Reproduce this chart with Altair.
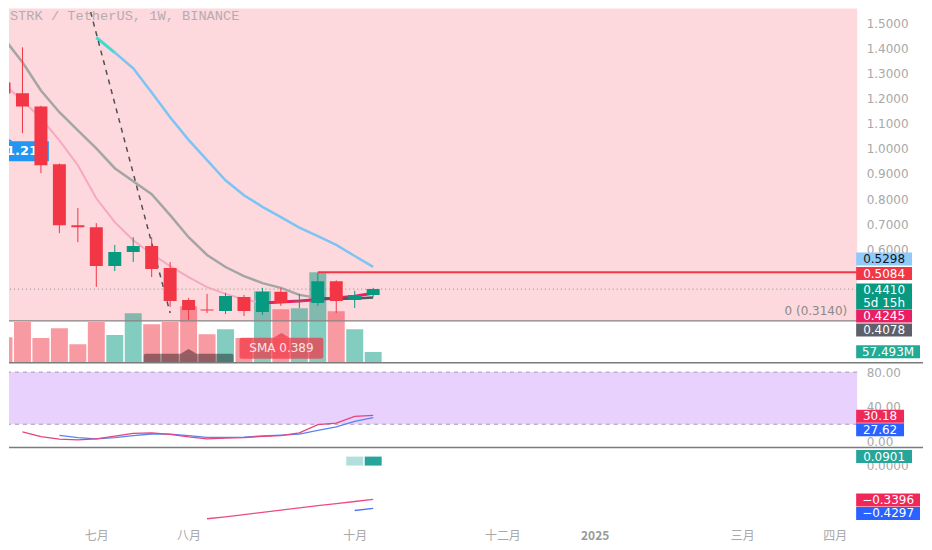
import altair as alt
import pandas as pd

# ---------------- values ----------------
bar_idx = list(range(21))            # weekly bars, 0 = week of 27 May 2024
opens  = [1.265, 1.222, 1.169, 0.939, 0.696, 0.688, 0.533, 0.589, 0.613, 0.525, 0.398,
          0.360, 0.354, 0.410, 0.350, 0.430, 0.390, 0.386, 0.472, 0.398, 0.418]
highs  = [1.340, 1.405, 1.172, 0.942, 0.764, 0.704, 0.617, 0.648, 0.648, 0.549, 0.406,
          0.422, 0.426, 0.418, 0.446, 0.446, 0.422, 0.505, 0.476, 0.434, 0.446]
lows   = [1.161, 1.063, 0.903, 0.664, 0.628, 0.450, 0.513, 0.549, 0.489, 0.370, 0.318,
          0.346, 0.342, 0.334, 0.338, 0.374, 0.366, 0.374, 0.346, 0.366, 0.410]
closes = [1.221, 1.169, 0.935, 0.696, 0.688, 0.533, 0.589, 0.613, 0.521, 0.394, 0.358,
          0.356, 0.414, 0.354, 0.430, 0.386, 0.395, 0.472, 0.394, 0.418, 0.441]
volume_m = [138, 219, 133, 186, 100, 219, 149, 267, 208, 219, 304,
            154, 181, 133, 385, 288, 294, 487, 278, 181, 57.493]

ma_gray = [1.440, 1.345, 1.233, 1.146, 1.074, 1.002, 0.923, 0.871, 0.819, 0.736, 0.648,
           0.577, 0.529, 0.493, 0.465, 0.446, 0.418, 0.406, 0.402, 0.404, 0.4078]
ma_pink = [1.257, 1.193, 1.122, 1.034, 0.935, 0.803, 0.708, 0.636, 0.581, 0.533, 0.489,
           0.449, 0.422, 0.400, 0.386, 0.390, 0.394, 0.400, 0.406, 0.413, 0.4245]
ma_blue_idx = list(range(5, 21))
ma_blue = [1.444, 1.384, 1.321, 1.225, 1.126, 1.036, 0.955, 0.875, 0.815, 0.769,
           0.728, 0.686, 0.652, 0.617, 0.573, 0.5298]
dash_idx = [4, 5, 6, 7, 8, 9]
dash_vals = [1.738, 1.460, 1.181, 0.903, 0.625, 0.346]

rsi_k_idx = list(range(1, 21))
rsi_k = [11.1, 5.7, 2.9, 2.0, 3.1, 6.3, 9.5, 10.0, 8.4, 5.4, 3.1, 4.0, 4.6, 6.1, 6.9,
         10.0, 19.5, 21.2, 29.0, 30.18]
rsi_d_idx = list(range(3, 21))
rsi_d = [7.2, 4.6, 3.1, 4.6, 6.9, 8.8, 8.6, 6.9, 4.9, 4.9, 5.2, 6.5, 7.5, 8.6, 13.0,
         16.9, 23.3, 27.62]
rsi_band = [20, 80]

macd_idx = list(range(11, 21))
macd = [-0.533, -0.513, -0.492, -0.468, -0.446, -0.423, -0.402, -0.381, -0.360, -0.3396]
signal_idx = [19, 20]
signal = [-0.450, -0.4297]
hist_idx = [19, 20]
hist = [0.090, 0.0901]

month_idx = [5, 10, 19, 27, 32, 40, 45]
month_lbl = ["七月", "八月", "十月", "十二月", "2025", "三月", "四月"]
price_ticks = [0.4, 0.5, 0.6, 0.7, 0.8, 0.9, 1.0, 1.1, 1.2, 1.3, 1.4, 1.5]
rsi_ticks = [0, 40, 80]
macd_ticks = [0]

last_price = 0.4410
fib_level = 0.3140
res_level = 0.5084
res_start = 17

title_text = "STRK / TetherUS, 1W, BINANCE"
fib_text = "0 (0.3140)"

# tags on the price axis (text, where the tag sits)
a_tag_text = ["0.5298", "0.5084", "0.4410\n5d 15h", "0.4245", "0.4078", "57.493M"]
a_tag_pos = [0.561, 0.503, 0.412, 0.334, 0.278, 0.191]
b_tag_text = ["30.18", "27.62"]
b_tag_pos = [29.3, 13.8]
c_tag_text = ["0.0901", "\u22120.3396", "\u22120.4297"]
c_tag_pos = [0.09, -0.345, -0.48]

# in-chart annotations
flag_text = "1.219"
flag_box = [-0.16, 2.43, 0.951, 1.030]     # x0, x1, y0, y1
flag_tip = [0.16, 1.030]
sma_text = "SMA 0.389"
sma_box = [12.76, 17.30, 0.163, 0.2466]
sma_tip = [15.03, 0.2466]
ma10_text = "10MA 0.362"
ma10_box = [7.57, 12.43, 0.12, 0.183]
ma10_tip = [10.0, 0.183]

# ---------------- layout / style ----------------
W = 850
HA, HB, HC = 355, 85, 78
X_DOM = [0.27, 46.22]
PA_DOM = [0.1472, 1.5593]
PB_DOM = [-6.89, 90.7]
PC_DOM = [-0.60, 0.18]
VOL_DOM = [0, 1906]
PX_X = W / (X_DOM[1] - X_DOM[0])
PX_A = HA / (PA_DOM[1] - PA_DOM[0])
PX_B = HB / (PB_DOM[1] - PB_DOM[0])
PX_C = HC / (PC_DOM[1] - PC_DOM[0])
TAG_X0 = X_DOM[1] - 1.0 / PX_X

UP, DOWN = "#089981", "#f23645"
PINK_BG = "#fdd8dd"
AXIS_GRAY = "#a8a8a8"
FONT = "DejaVu Sans"

SX = alt.Scale(domain=X_DOM, nice=False, zero=False)
SA = alt.Scale(domain=PA_DOM, nice=False, zero=False)
SB = alt.Scale(domain=PB_DOM, nice=False, zero=False)
SC = alt.Scale(domain=PC_DOM, nice=False, zero=False)
SV = alt.Scale(domain=VOL_DOM, nice=False, zero=False)


def yaxis(values, fmt):
    return alt.Axis(orient="right", values=values, format=fmt, ticks=False, tickSize=0,
                    domain=False, grid=False, labelPadding=9, labelFontSize=12,
                    labelColor=AXIS_GRAY, labelFont=FONT, title=None)


AXA = yaxis(price_ticks, ".4f")
AXB = yaxis(rsi_ticks, ".2f")
AXC = yaxis(macd_ticks, ".4f")

label_expr = " : ".join(f"datum.value == {i} ? '{t}'" for i, t in zip(month_idx, month_lbl)) + " : ''"
AXX = alt.Axis(values=month_idx, labelExpr=label_expr, ticks=False, tickSize=0, domain=False,
               grid=False, labelPadding=5, labelFontSize=12, labelFont="Noto Sans CJK SC",
               labelColor=alt.condition("datum.value == 32", alt.value("#999999"), alt.value(AXIS_GRAY)),
               labelFontWeight=alt.condition("datum.value == 32", alt.value("bold"), alt.value("normal")),
               labelFlush=False, labelOverlap=False, labelAngle=0, title=None)


def X(f, axis=None):
    return alt.X(f"{f}:Q", scale=SX, axis=axis)


def Y(f, scale, axis=None):
    return alt.Y(f"{f}:Q", scale=scale, axis=axis)


def tag_frames(texts, pos, fills, tcolors, px):
    boxes, labels = [], []
    for t, p, f, c in zip(texts, pos, fills, tcolors):
        lines = t.split("\n")
        h = 13 * len(lines)
        w = 8 * max(len(s) for s in lines) + 8
        x0, x1 = TAG_X0, TAG_X0 + w / PX_X
        boxes.append(dict(x0=x0, x1=x1, y0=p - h / 2 / px, y1=p + h / 2 / px, fill=f))
        for k, s in enumerate(lines):
            off = (len(lines) - 1) / 2 - k
            labels.append(dict(x=(x0 + x1) / 2, y=p + off * 12.5 / px, text=s, color=c))
    return pd.DataFrame(boxes), pd.DataFrame(labels)


def tag_layers(texts, pos, fills, tcolors, px, scale, axis):
    bdf, ldf = tag_frames(texts, pos, fills, tcolors, px)
    boxes = alt.Chart(bdf).mark_rect(clip=False).encode(
        x=X("x0"), x2="x1", y=Y("y0", scale, axis), y2="y1",
        color=alt.Color("fill:N", scale=None))
    txt = alt.Chart(ldf).mark_text(clip=False, font=FONT, fontSize=12, baseline="middle",
                                   align="center").encode(
        x=X("x"), y=Y("y", scale, axis), text="text:N",
        color=alt.Color("color:N", scale=None))
    return [boxes, txt]


def separator():
    return alt.Chart(pd.DataFrame({"a": [0]})).mark_rule(
        color="#7b7b7b", strokeWidth=1.5, clip=False).encode(
        x=alt.value(0), x2=alt.value(916), y=alt.value(0))


TRI = "M-1,0L0,-0.6L1,0Z"

# ---------------- pane A: price + volume ----------------
cdf = pd.DataFrame({"i": bar_idx, "open": opens, "high": highs, "low": lows,
                    "close": closes, "vol": volume_m})
cdf["up"] = cdf["close"] >= cdf["open"]
cdf["col"] = cdf["up"].map({True: UP, False: DOWN})
cdf["bx0"] = cdf["i"] - 6.5 / PX_X
cdf["bx1"] = cdf["i"] + 6.5 / PX_X
cdf["vx0"] = cdf["i"] - 8.5 / PX_X
cdf["vx1"] = cdf["i"] + 8.5 / PX_X
cdf["v0"] = 0.0

bg = alt.Chart(pd.DataFrame({"lo": [fib_level], "hi": [PA_DOM[1]]})).mark_rect(
    color=PINK_BG).encode(x=alt.value(0), x2=alt.value(W), y=Y("lo", SA, AXA), y2="hi")

vol = alt.Chart(cdf).mark_rect(opacity=0.5, clip=True).encode(
    x=X("vx0"), x2="vx1", y=Y("vol", SV), y2="v0", color=alt.Color("col:N", scale=None))

fib_rule = alt.Chart(pd.DataFrame({"y": [fib_level]})).mark_rule(
    color="#858585", strokeWidth=1.3).encode(y=Y("y", SA))
last_rule = alt.Chart(pd.DataFrame({"y": [last_price]})).mark_rule(
    color="#8c8c8c", strokeWidth=1, strokeDash=[1, 3]).encode(y=Y("y", SA))


def line_layer(xs, ys, color, width, dash=None, opacity=1.0):
    kw = dict(color=color, strokeWidth=width, clip=True, opacity=opacity)
    if dash:
        kw["strokeDash"] = dash
    return alt.Chart(pd.DataFrame({"i": xs, "v": ys})).mark_line(**kw).encode(
        x=X("i"), y=Y("v", SA))


pink_light = line_layer(bar_idx[:15], ma_pink[:15], "#f4a9c1", 2)
pink_dark = line_layer(bar_idx[14:], ma_pink[14:], "#e91e63", 3)
gray_light = line_layer(bar_idx[:18], ma_gray[:18], "#a5a5a5", 2.5)
gray_dark = line_layer(bar_idx[17:], ma_gray[17:], "#55585f", 2.5)
blue_cyan = line_layer(ma_blue_idx[:2], ma_blue[:2], "#3fdccf", 3)
blue_line = line_layer(ma_blue_idx[1:], ma_blue[1:], "#7cc4f4", 2.5)
dashed = line_layer(dash_idx, dash_vals, "#505050", 1.5, dash=[5, 5])

flag_rect = alt.Chart(pd.DataFrame({"x0": [flag_box[0]], "x1": [flag_box[1]],
                                    "y0": [flag_box[2]], "y1": [flag_box[3]]})).mark_rect(
    color="#2196f3", clip=True).encode(x=X("x0"), x2="x1", y=Y("y0", SA), y2="y1")
flag_tri = alt.Chart(pd.DataFrame({"x": [flag_tip[0]], "y": [flag_tip[1]]})).mark_point(
    shape=TRI, size=144, filled=True, color="#2196f3", opacity=1, clip=True).encode(
    x=X("x"), y=Y("y", SA))
flag_txt = alt.Chart(pd.DataFrame({"x": [0.11], "y": [0.99], "t": [flag_text]})).mark_text(
    color="white", font=FONT, fontSize=13, fontWeight="bold", align="left",
    baseline="middle", clip=True).encode(x=X("x"), y=Y("y", SA), text="t:N")

wicks = alt.Chart(cdf).mark_rule(strokeWidth=1, clip=True).encode(
    x=X("i"), y=Y("low", SA), y2="high", color=alt.Color("col:N", scale=None))
bodies = alt.Chart(cdf).mark_rect(clip=True).encode(
    x=X("bx0"), x2="bx1", y=Y("open", SA), y2="close", color=alt.Color("col:N", scale=None))

res_rule = alt.Chart(pd.DataFrame({"x0": [res_start], "x1": [X_DOM[1]], "y": [res_level]})).mark_rule(
    color="#f23645", strokeWidth=2, clip=True).encode(x=X("x0"), x2="x1", y=Y("y", SA))


def badge(box, tip, text, fill, opacity, tcolor, ty):
    bdf = pd.DataFrame({"x0": [box[0]], "x1": [box[1]], "y0": [box[2]], "y1": [box[3]]})
    r = alt.Chart(bdf).mark_rect(color=fill, opacity=opacity, clip=True,
                                 cornerRadius=2).encode(
        x=X("x0"), x2="x1", y=Y("y0", SA), y2="y1")
    t = alt.Chart(pd.DataFrame({"x": [tip[0]], "y": [tip[1]]})).mark_point(
        shape=TRI, size=256, filled=True, color=fill, opacity=opacity, clip=True).encode(
        x=X("x"), y=Y("y", SA))
    tx = alt.Chart(pd.DataFrame({"x": [tip[0]], "y": [ty], "t": [text]})).mark_text(
        color=tcolor, font=FONT, fontSize=12, align="center", baseline="middle",
        clip=True).encode(x=X("x"), y=Y("y", SA), text="t:N")
    return [r, t, tx]


ma10_layers = badge(ma10_box, ma10_tip, ma10_text, "#000000", 0.4, "#f3dcdc", 0.131)
sma_layers = badge(sma_box, sma_tip, sma_text, "#f23645", 0.72, "#ffe3e3", 0.205)

fib_lbl = alt.Chart(pd.DataFrame({"x": [45.68], "y": [0.354], "t": [fib_text]})).mark_text(
    color="#8a8a8a", font=FONT, fontSize=12, align="right", baseline="middle").encode(
    x=X("x"), y=Y("y", SA), text="t:N")
title_lbl = alt.Chart(pd.DataFrame({"x": [0.32], "y": [1.531], "t": [title_text]})).mark_text(
    color="#b3adaf", font="Liberation Mono", fontSize=13.7, align="left",
    baseline="middle").encode(x=X("x"), y=Y("y", SA), text="t:N")

a_tags = tag_layers(a_tag_text, a_tag_pos,
                    ["#90caf9", "#f23645", "#089981", "#e91e63", "#5d606b", "#22ab94"],
                    ["#131722", "white", "white", "white", "white", "white"], PX_A, SA, None)

pane_a = alt.layer(
    bg, vol, fib_rule, last_rule,
    pink_light, pink_dark, gray_light, gray_dark, blue_cyan, blue_line, dashed,
    flag_rect, flag_tri, flag_txt,
    wicks, bodies, res_rule,
    *ma10_layers, *sma_layers,
    fib_lbl, title_lbl, *a_tags
).resolve_scale(y="independent").properties(width=W, height=HA)

# ---------------- pane B: stochastic RSI ----------------
band = alt.Chart(pd.DataFrame({"lo": [rsi_band[0]], "hi": [rsi_band[1]]})).mark_rect(
    color="#e8d1fc").encode(x=alt.value(0), x2=alt.value(W), y=Y("lo", SB, AXB), y2="hi")
band_rules = alt.Chart(pd.DataFrame({"y": rsi_band})).mark_rule(
    color="#a89cae", strokeWidth=1, strokeDash=[4, 4]).encode(y=Y("y", SB, AXB))
k_line = alt.Chart(pd.DataFrame({"i": rsi_k_idx, "v": rsi_k})).mark_line(
    color="#e8437a", strokeWidth=1.3, clip=True).encode(x=X("i"), y=Y("v", SB, AXB))
d_line = alt.Chart(pd.DataFrame({"i": rsi_d_idx, "v": rsi_d})).mark_line(
    color="#5a84f0", strokeWidth=1.3, clip=True).encode(x=X("i"), y=Y("v", SB, AXB))
b_tags = tag_layers(b_tag_text, b_tag_pos, ["#f0285a", "#2962ff"], ["white", "white"],
                    PX_B, SB, AXB)

pane_b = alt.layer(band, band_rules, d_line, k_line, *b_tags, separator()).properties(
    width=W, height=HB)

# ---------------- pane C: MACD ----------------
hdf = pd.DataFrame({"i": hist_idx, "v": hist, "col": ["#b2dfdb", "#26a69a"]})
hdf["x0"] = hdf["i"] - 8.5 / PX_X
hdf["x1"] = hdf["i"] + 8.5 / PX_X
hdf["v0"] = 0.0
hist_bars = alt.Chart(hdf).mark_rect().encode(
    x=X("x0", AXX), x2="x1", y=Y("v0", SC, AXC), y2="v", color=alt.Color("col:N", scale=None))
macd_line = alt.Chart(pd.DataFrame({"i": macd_idx, "v": macd})).mark_line(
    color="#ee4a83", strokeWidth=1.3, clip=True).encode(x=X("i", AXX), y=Y("v", SC, AXC))
sig_line = alt.Chart(pd.DataFrame({"i": signal_idx, "v": signal})).mark_line(
    color="#4a74f0", strokeWidth=1.3, clip=True).encode(x=X("i", AXX), y=Y("v", SC, AXC))
c_bdf, c_ldf = tag_frames(c_tag_text, c_tag_pos, ["#26a69a", "#f0285a", "#2962ff"],
                          ["white", "white", "white"], PX_C)
c_boxes = alt.Chart(c_bdf).mark_rect(clip=False).encode(
    x=X("x0", AXX), x2="x1", y=Y("y0", SC, AXC), y2="y1", color=alt.Color("fill:N", scale=None))
c_txt = alt.Chart(c_ldf).mark_text(clip=False, font=FONT, fontSize=12, baseline="middle",
                                   align="center").encode(
    x=X("x", AXX), y=Y("y", SC, AXC), text="text:N", color=alt.Color("color:N", scale=None))

pane_c = alt.layer(hist_bars, macd_line, sig_line, c_boxes, c_txt, separator()).properties(
    width=W, height=HC)

chart = alt.vconcat(pane_a, pane_b, pane_c, spacing=0, bounds="flush").properties(
    padding=0, background="white"
).configure_view(stroke=None)

chart.save("out.html", embed_options={"renderer": "svg", "actions": False})
